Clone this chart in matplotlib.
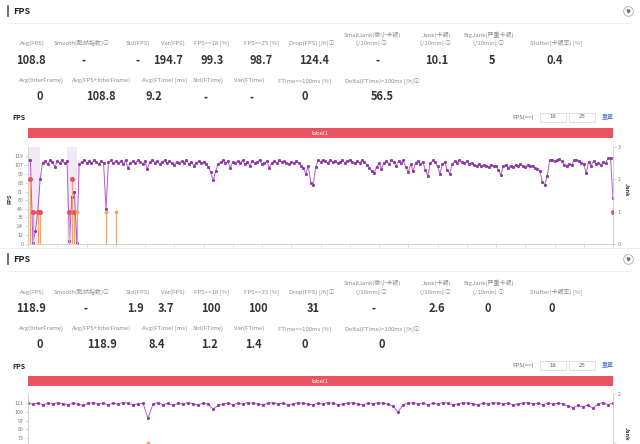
import numpy as np
import matplotlib.pyplot as plt
from matplotlib.lines import Line2D
from matplotlib.patches import Rectangle

plt.rcParams['font.family'] = ['Noto Sans CJK SC', 'DejaVu Sans']

W, H = 640, 444

# ---- stats tables ----
row1_labels = ['Avg(FPS)', 'Smooth(酷帧指数)ⓘ', 'Std(FPS)', 'Var(FPS)', 'FPS>=18 [%]', 'FPS>=25 [%]',
               'Drop(FPS) [/h]ⓘ', 'SmallJank(微小卡顿)\n(/10min) ⓘ', 'Jank(卡顿)\n(/10min) ⓘ',
               'BigJank(严重卡顿)\n(/10min) ⓘ', 'Stutter(卡顿率) [%]']
row2_labels = ['Avg(InterFrame)', 'Avg(FPS+InterFrame)', 'Avg(FTime) [ms]', 'Std(FTime)', 'Var(FTime)',
               'FTime>=100ms [%]', 'Delta(FTime)>100ms [/h]ⓘ']

top_row1_values = ['108.8', '-', '-', '194.7', '99.3', '98.7', '124.4', '-', '10.1', '5', '0.4']
top_row2_values = ['0', '108.8', '9.2', '-', '-', '0', '56.5']
bot_row1_values = ['118.9', '-', '1.9', '3.7', '100', '100', '31', '-', '2.6', '0', '0']
bot_row2_values = ['0', '118.9', '8.4', '1.2', '1.4', '0', '0']

# ---- FPS series (top chart) ----
top_fps = [113, 114, 2, 17, 44, 88,
           110, 112, 108, 113, 111, 104, 112, 110, 113, 109,
           112, 4, 64, 71, 2, 108,
           111, 113, 110, 112, 109, 113, 111, 108, 112,
           110, 47,
           111, 113, 109, 112, 110, 112, 108, 113,
           103,
           110, 112, 109, 113, 111, 108, 112,
           101,
           111, 113, 110, 112, 108, 111, 113, 109, 112, 110, 107,
           111, 109, 112, 110, 113, 108, 111, 106, 110, 112,
           109, 111, 108, 104, 97, 86, 99,
           108, 111, 113, 110, 112, 103, 111,
           109, 112, 110, 113, 108, 111, 106, 112, 109, 111, 113, 108, 110, 112,
           103, 110, 112, 109, 113, 111,
           112, 110, 108, 111, 109, 112, 110, 106, 103,
           95, 106, 83, 80, 104,
           113, 111, 114, 112, 110, 113, 111, 112, 109, 111,
           113, 110, 112, 114, 111, 109, 112, 110, 113, 111,
           107, 103, 99, 96, 104, 109, 102,
           110, 112, 108, 113, 111, 105,
           112, 109, 113, 104, 97, 108, 99,
           110, 112, 108, 111, 100, 92,
           109, 113, 111, 105, 95,
           108, 111, 100, 95, 108,
           112, 110, 113, 111, 109, 112,
           108, 110, 107, 106, 108, 105, 107,
           106, 104, 107, 105, 106, 100, 94,
           105, 107, 103, 106, 104, 107, 105, 108, 106, 104, 107, 105, 106, 103, 101, 99,
           84, 80, 92,
           113, 114, 112, 113, 115, 112,
           107, 106, 108, 107,
           113, 114, 112, 110, 108, 96,
           111, 106, 112, 108, 110,
           107, 111, 109, 117, 116, 62]
top_jank_idx = [1, 2, 4, 5, 17, 18, 19, 20, 32, 36, 240]
top_jank_val = [2, 1, 1, 1, 1, 2, 1, 1, 1, 1, 1]
top_jank_big = [1, 1, 1, 1, 1, 1, 1, 0, 0, 0, 1]
top_shade = [(0, 5), (16, 20)]

# ---- FPS series (bottom chart) ----
bot_fps = [121,
           120, 121, 119, 121, 120, 122, 120, 119, 121, 120, 118, 121, 122, 120, 121, 119, 121, 120, 122, 121,
           119, 120, 121,
           100, 120,
           122, 119, 121, 118, 121, 120, 122, 120, 119, 121, 120,
           113,
           118, 120, 121, 119, 121, 120, 122, 121, 120, 119, 121, 122, 120, 121, 119, 120, 122, 121, 120, 119,
           121, 120, 122, 121, 119, 120, 121, 122, 120, 119, 121, 120, 122, 121, 120,
           117, 109, 119,
           121, 122, 120, 121, 119, 121, 120, 122, 121, 119, 120, 122, 121, 120, 119, 121, 120, 122, 121, 120,
           121, 119, 120, 121, 122, 120, 121, 119, 121, 120, 121, 120,
           117, 115, 118, 116, 119, 114,
           120, 122, 119, 121]
bot_jank_idx = [24]
bot_jank_val = [1]
bot_jank_big = [0]

top_fps_ticks = [0, 12, 24, 36, 48, 60, 71, 83, 95, 107, 119]
bot_fps_ticks = [0, 12, 24, 36, 48, 61, 73, 85, 97, 109, 121]

LABEL_C = '#8c8c8c'
VALUE_C = '#333333'
LINE_C = '#b25cc8'
DOT_C = '#8e3aa6'
RED = '#e8535f'
ORANGE = '#f2a46a'


def fx(x):
    return x / W


def fy(y):
    return 1 - y / H


fig = plt.figure(figsize=(6.4, 4.44), dpi=100)
fig.patch.set_facecolor('white')


def panel(dy, r1_vals, r2_vals):
    # header
    fig.add_artist(Line2D([fx(8), fx(8)], [fy(6 + dy), fy(16 + dy)], color='#4a5570', lw=1.2))
    fig.text(fx(13), fy(11 + dy), 'FPS', fontsize=6.5, weight='bold', color='#222', va='center')
    fig.add_artist(Line2D([fx(8), fx(632)], [fy(23.3 + dy)] * 2, color='#ececec', lw=0.6))
    fig.add_artist(Line2D([fx(628)], [fy(11 + dy)], marker='o', ms=7, mfc='white', mec='#b0b0b0', mew=0.6))
    fig.add_artist(Line2D([fx(628)], [fy(11.3 + dy)], marker='v', ms=2, color='#666'))

    r1_lx = [32, 82, 138, 173, 212, 262, 312, 372, 436, 489, 556]
    r1_vx = [31, 83, 138, 168, 212, 261, 314, 377, 437, 492, 555]
    r2_lx = [41, 102, 165, 208, 249, 305, 382]
    r2_vx = [40, 101, 154, 206, 252, 305, 382]
    if dy > 0:
        r1_vx = [31, 85, 135, 166, 211, 258, 313, 373, 437, 488, 552]
        r2_vx = [40, 102, 157, 209, 254, 305, 382]
    for lab, x in zip(row1_labels, r1_lx):
        fig.text(fx(x), fy(46.5 + dy), lab, fontsize=4.3, color=LABEL_C, ha='center', va='bottom',
                 linespacing=1.45)
    for v, x in zip(r1_vals, r1_vx):
        fig.text(fx(x), fy(60 + dy), v, fontsize=8, color=VALUE_C, ha='center', va='center', weight='bold')
    for lab, x in zip(row2_labels, r2_lx):
        fig.text(fx(x), fy(80.7 + dy), lab, fontsize=4.3, color=LABEL_C, ha='center', va='center')
    for v, x in zip(r2_vals, r2_vx):
        fig.text(fx(x), fy(96.7 + dy), v, fontsize=8, color=VALUE_C, ha='center', va='center', weight='bold')

    # chart title + controls
    fig.text(fx(12), fy(118 + dy), 'FPS', fontsize=5, weight='bold', color='#222', va='center')
    fig.text(fx(523), fy(117 + dy), 'FPS(>=)', fontsize=4.3, color='#666', ha='center', va='center')
    for x0, txt in [(540, '18'), (569, '25')]:
        fig.add_artist(Rectangle((fx(x0), fy(121.5 + dy)), fx(26), 9 / H, fill=False,
                                 ec='#d9d9d9', lw=0.6, transform=fig.transFigure))
        fig.text(fx(x0 + 13), fy(117 + dy), txt, fontsize=4.3, color='#666', ha='center', va='center')
    fig.text(fx(608), fy(117 + dy), '重置', fontsize=4.3, color='#4a7bd0', ha='center', va='center')

    # red label bar
    fig.add_artist(Rectangle((fx(28), fy(138.3 + dy)), fx(585), 10 / H, color=RED, lw=0,
                             transform=fig.transFigure))
    fig.text(fx(320), fy(133.3 + dy), 'label1', fontsize=4.3, color='white', ha='center', va='center')


def style_axis(a):
    a.tick_params(axis='y', labelsize=3.8, labelcolor='#777', length=2, width=0.4, color='#bbb', pad=1.5)
    a.spines['top'].set_visible(False)
    for s in ['left', 'bottom', 'right']:
        a.spines[s].set_color('#cfcfcf')
        a.spines[s].set_linewidth(0.5)


def chart(ax, fps, ticks, ymax, jmax, jank_idx, jank_val, jank_big, shades, min_label=0, jank_labels=None):
    x = np.arange(len(fps))
    for a, b in shades:
        ax.axvspan(a, b, color='#f1e3f4', alpha=0.8, lw=0)
    ax.plot(x, fps, color=LINE_C, lw=0.7, zorder=3)
    ax.plot(x, fps, ls='none', marker='s', ms=1.1, color=DOT_C, zorder=4)
    ax.set_xlim(0, len(fps) - 1)
    ax.set_ylim(0, ymax)
    ax.set_yticks(ticks)
    ax.set_yticklabels([str(t) if t >= min_label else '' for t in ticks])
    ax.set_xticks(np.linspace(0, len(fps) - 1, 21))
    ax.set_xticklabels([])
    ax.tick_params(axis='x', length=2, width=0.4, color='#bbb')
    style_axis(ax)
    ax.set_facecolor('none')

    axr = ax.twinx()
    axr.set_ylim(0, jmax)
    axr.set_yticks(range(jmax + 1))
    if jank_labels is not None:
        axr.set_yticklabels(jank_labels)
    axr.vlines(jank_idx, 0, jank_val, color=ORANGE, lw=0.8, zorder=2)
    for i, v, big in zip(jank_idx, jank_val, jank_big):
        axr.plot([i], [v], ls='none', marker='o', ms=2.6 if big else 1.8,
                 color=RED if big else ORANGE, zorder=5)
    style_axis(axr)
    return axr


panel(0, top_row1_values, top_row2_values)
panel(248, bot_row1_values, bot_row2_values)

ax1 = fig.add_axes([fx(28), fy(244), fx(585), 97.2 / H])
chart(ax1, top_fps, top_fps_ticks, 131.5, 3, top_jank_idx, top_jank_val, top_jank_big, top_shade)
fig.text(fx(10), fy(199), 'FPS', fontsize=4, weight='bold', color='#333', rotation=90, ha='center', va='center')
fig.text(fx(626.5), fy(190), 'Jank', fontsize=4, weight='bold', color='#333', rotation=270, ha='center', va='center')

fig.add_artist(Line2D([0, 1], [fy(248)] * 2, color='#e6e6e6', lw=0.6))

ax2 = fig.add_axes([fx(28), fy(490.8), fx(585), 96.5 / H])
chart(ax2, bot_fps, bot_fps_ticks, 133.4, 2, bot_jank_idx, bot_jank_val, bot_jank_big, [],
      min_label=73, jank_labels=['', '', '2'])
fig.text(fx(626.5), fy(434), 'Jank', fontsize=4, weight='bold', color='#333', rotation=270, ha='center', va='center')

fig.savefig('out.png', dpi=100)
